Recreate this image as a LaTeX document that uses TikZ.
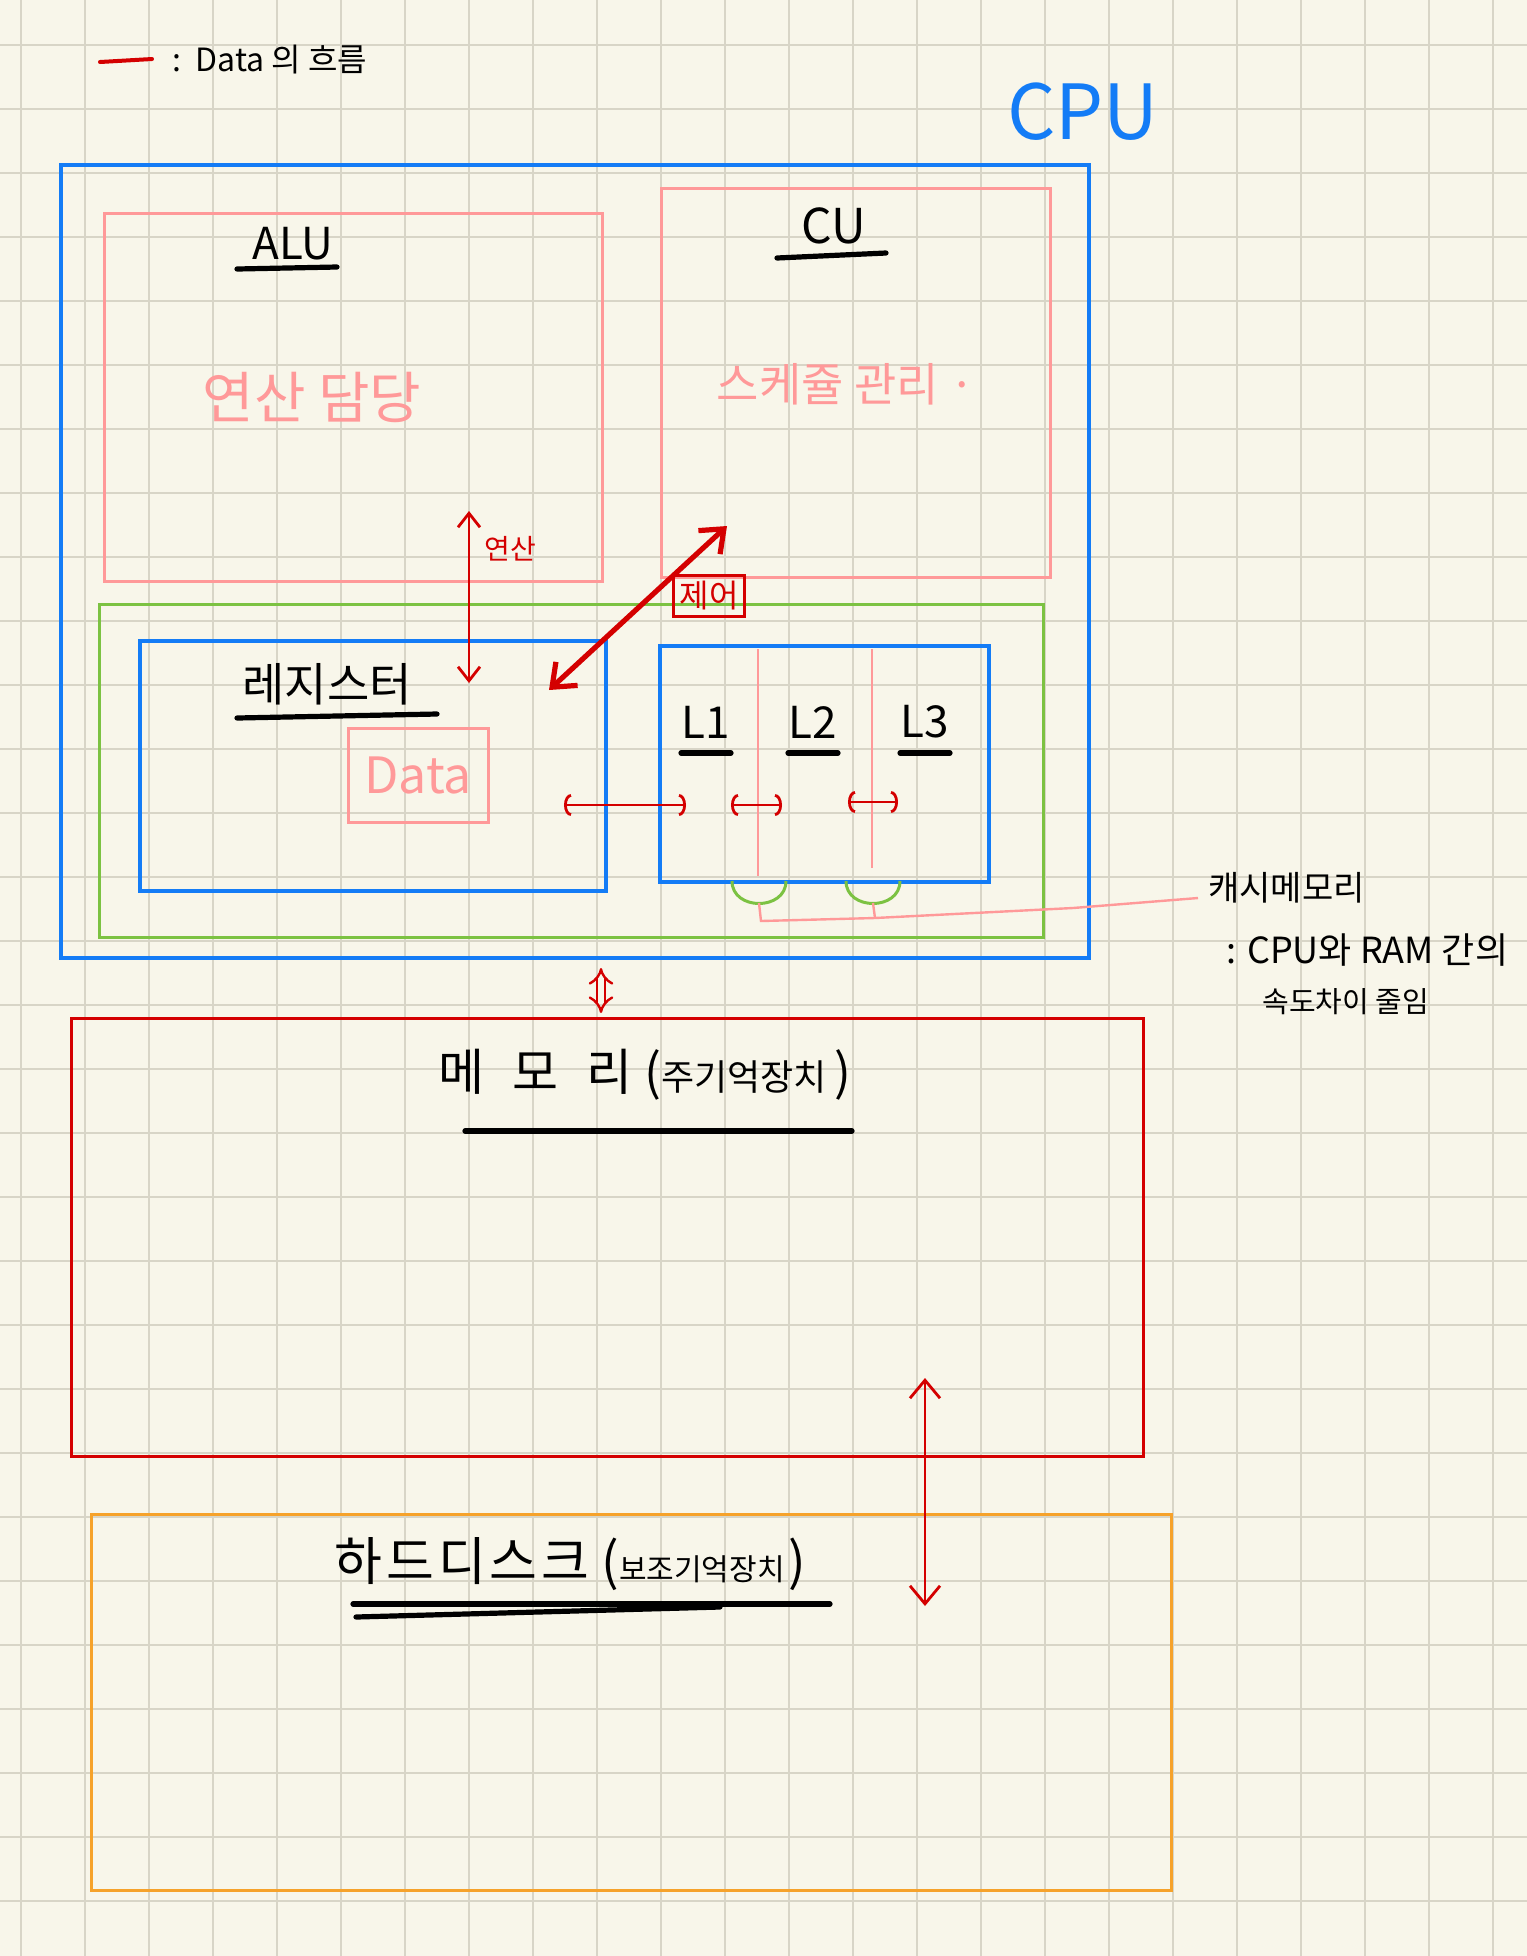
\documentclass[tikz,border=0pt]{standalone}
\usepackage{fontspec}
\setmainfont{Noto Sans CJK KR}
\usepackage{tikz}
\usetikzlibrary{positioning,arrows.meta,fit,calc}
\definecolor{paper}{RGB}{248,246,234}
\definecolor{gridc}{RGB}{216,213,199}
\definecolor{cpublue}{RGB}{20,124,246}
\definecolor{unitpink}{RGB}{255,153,153}
\definecolor{hiergreen}{RGB}{124,194,66}
\definecolor{memred}{RGB}{212,0,0}
\definecolor{hddorange}{RGB}{246,162,42}

\begin{document}
\begin{tikzpicture}[
  x=0.5pt, y=-0.5pt,
  gridline/.style={gridc, line width=0.8pt},
  txt/.style={inner sep=0pt, font=\fontsize{#1}{#1}\selectfont},
  box/.style={draw, inner sep=0pt, line width=1.5pt},
  cpubox/.style={box, draw=cpublue, line width=2pt},
  unitbox/.style={box, draw=unitpink},
  hierbox/.style={box, draw=hiergreen},
  membox/.style={box, draw=memred},
  hddbox/.style={box, draw=hddorange},
  uline/.style={line width=2.6pt, line cap=round},
  flow/.style={memred, line width=1.4pt},
  barb/.style={flow, {Straight Barb[length=7pt,width=11pt]}-{Straight Barb[length=7pt,width=11pt]}},
  arc/.style={flow, {Arc Barb[length=3.5pt,width=11pt]}-{Arc Barb[length=3.5pt,width=11pt]}},
  divider/.style={unitpink, line width=1pt},
  cup/.style={hiergreen, line width=1.5pt},
  leader/.style={unitpink, line width=1.2pt}
]
% paper and grid
\fill[paper] (0,0) rectangle (1527,1956);
\useasboundingbox (0,0) rectangle (1527,1956);
\foreach \i in {0,...,23}
  \draw[gridline] ({20.7+64*\i},0) -- ({20.7+64*\i},1956);
\foreach \j in {0,...,29}
  \draw[gridline] (0,{45+64*\j}) -- (1527,{45+64*\j});

% legend
\coordinate (lg1) at (100,62);
\coordinate (lg2) at (152,59);
\draw[flow, line width=2pt, line cap=round] (lg1) -- (lg2);
\node[txt=16, anchor=west] (legend) at (172,60) {:\ \ Data 의 흐름};

% boxes
\node[cpubox, fit={(61,165) (1089,958)}] (cpu) {};
\node[txt=38, text=cpublue] (cpulbl) at (1083,112) {CPU};
\node[unitbox, fit={(104,213) (602,581)}] (alu) {};
\node[unitbox, fit={(661,188) (1050,577)}] (cu) {};
\node[hierbox, fit={(99,604) (1043,937)}] (hier) {};
\node[cpubox, fit={(140,641) (606,891)}] (reg) {};
\node[cpubox, fit={(660,646) (989,882)}] (cache) {};
\node[membox, fit={(71,1018) (1143,1456)}] (mem) {};
\node[hddbox, fit={(91,1514) (1171,1890)}] (hdd) {};

% ALU / CU
\node[txt=22] (alulbl) at (293,244) {ALU};
\draw[uline] (237,269) -- (337,267);
\node[txt=28, text=unitpink] (aludesc) at (312,397) {연산 담당};
\node[txt=24] (culbl) at (834,226) {CU};
\draw[uline] (777,258) -- (886,253);
\node[txt=23, text=unitpink] (cudesc) at (846,384) {스케쥴 관리 ·};

% register
\node[txt=23] (reglbl) at (327,684) {레지스터};
\draw[uline] (237,718) -- (437,714);
\node[box, draw=unitpink, text=unitpink, txt=25, minimum width=70pt, minimum height=47pt]
  (data) at (418,775) {Data};

% cache
\foreach \x/\b in {758/876, 872/868}
  \draw[divider] (\x,649) -- (\x,\b);
\foreach \n/\x in {1/706, 2/813, 3/925} {
  \node[txt=22] (l\n) at (\x,722) {L\n};
  \draw[uline] ({\x-25},753) -- ({\x+25},753);
}

% data flow
\coordinate (opA) at (469,511);
\coordinate (opB) at (469,683);
\draw[barb] (opA) -- (opB);
\node[txt=14, text=memred] (oplbl) at (510,549) {연산};
\coordinate (ctA) at (549,690);
\coordinate (ctB) at (727,526);
\draw[flow, line width=2.6pt, {Straight Barb[length=10pt,width=16pt]}-{Straight Barb[length=10pt,width=16pt]}]
  (ctA) -- (ctB);
\node[draw=memred, line width=1.4pt, text=memred, txt=16, inner sep=3pt] (ctlbl) at (709,596) {제어};
\coordinate (rc1) at (564,805);
\coordinate (rc2) at (686,805);
\draw[arc] (rc1) -- (rc2);
\coordinate (ca1) at (731,805);
\coordinate (ca2) at (782,805);
\draw[arc] (ca1) -- (ca2);
\coordinate (ca3) at (848,802);
\coordinate (ca4) at (898,802);
\draw[arc] (ca3) -- (ca4);

% cache note
\coordinate (c1) at (759,903);
\coordinate (c2) at (873,903);
\foreach \c in {c1,c2}
  \draw[cup] ($(\c)+(-27,-22)$) .. controls ($(\c)+(-27,8)$) and ($(\c)+(27,8)$) .. ($(\c)+(27,-22)$);
\node[txt=17, anchor=west] (cachelbl) at (1208,888) {캐시메모리};
\node[txt=18, anchor=west] (cachenote) at (1226,950) {: CPU와 RAM 간의};
\node[txt=14.5, anchor=west] (cachenote2) at (1262,1002) {속도차이 줄임};
\coordinate (j1) at (761,921);
\coordinate (j2) at (875,918);
\coordinate (j3) at (1073,908);
\draw[leader] (c1) -- (j1) -- (j2) -- (j3) -- ($(cachelbl.west)+(-10,10)$);
\draw[leader] (c2) -- (j2);

% memory
\coordinate (bus1) at (601,968);
\coordinate (bus2) at (601,1013);
\draw[memred, line width=1.2pt, double=paper, double distance=3pt, {Implies}-{Implies}] (bus1) -- (bus2);
\node[txt=25] (memlbl) at (645,1075)
  {메\hspace{14pt}모\hspace{14pt}리\hspace{6pt}(\fontsize{18}{18}\selectfont 주기억장치\hspace{4pt}\fontsize{25}{25}\selectfont)};
\draw[uline] (465,1131) -- (852,1131);
\coordinate (io1) at (925,1378);
\coordinate (io2) at (925,1606);
\draw[flow, {Straight Barb[length=9pt,width=15pt]}-{Straight Barb[length=9pt,width=15pt]}] (io1) -- (io2);

% hard disk
\node[txt=26, anchor=west] (hddlbl) at (334,1564)
  {하\hspace{2pt}드\hspace{2pt}디\hspace{2pt}스\hspace{2pt}크\hspace{6pt}(\fontsize{15}{15}\selectfont 보조기억장치\hspace{2pt}\fontsize{26}{26}\selectfont)};
\draw[uline] (353,1604) -- (830,1604);
\draw[uline] (356,1617) -- (720,1607);
\end{tikzpicture}
\end{document}
